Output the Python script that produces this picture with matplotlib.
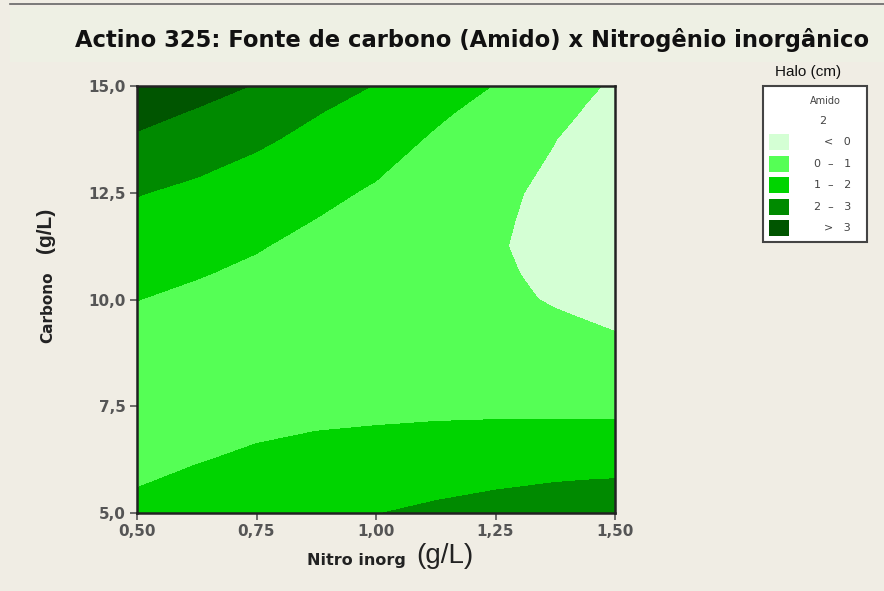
import matplotlib.pyplot as plt
import matplotlib.patches as patches
import numpy as np

# Grid
nitro = [0.50, 0.625, 0.75, 0.875, 1.00, 1.125, 1.25, 1.3125, 1.375, 1.4375, 1.50]
carbono = [5.0, 6.25, 7.5, 8.75, 10.0, 10.625, 11.25, 11.875, 12.5, 13.75, 14.375, 15.0]

# halo (cm), one row per carbono value, columns follow nitro
halo_c050 = [1.25, 1.50, 1.70, 1.90, 1.98, 2.15, 2.30, 2.35, 2.40, 2.43, 2.45]
halo_c062 = [0.72, 0.95, 1.15, 1.25, 1.35, 1.50, 1.60, 1.65, 1.70, 1.73, 1.75]
halo_c075 = [0.55, 0.60, 0.65, 0.78, 0.80, 0.80, 0.80, 0.79, 0.78, 0.77, 0.75]
halo_c088 = [0.70, 0.65, 0.60, 0.55, 0.50, 0.40, 0.35, 0.30, 0.25, 0.19, 0.12]
halo_c100 = [1.01, 0.85, 0.72, 0.55, 0.40, 0.25, 0.12, 0.04, -0.05, -0.12, -0.18]
halo_c106 = [1.21, 1.05, 0.87, 0.66, 0.46, 0.26, 0.08, -0.02, -0.13, -0.22, -0.30]
halo_c112 = [1.45, 1.30, 1.05, 0.80, 0.55, 0.30, 0.06, -0.08, -0.19, -0.30, -0.40]
halo_c119 = [1.73, 1.53, 1.26, 0.99, 0.71, 0.39, 0.12, -0.06, -0.18, -0.33, -0.44]
halo_c125 = [2.05, 1.78, 1.50, 1.20, 0.90, 0.50, 0.20, -0.01, -0.15, -0.30, -0.45]
halo_c138 = [2.88, 2.55, 2.15, 1.75, 1.35, 0.90, 0.50, 0.25, 0.01, -0.20, -0.35]
halo_c144 = [3.28, 2.92, 2.52, 2.04, 1.62, 1.13, 0.71, 0.46, 0.20, -0.05, -0.24]
halo_c150 = [3.75, 3.35, 2.95, 2.35, 1.97, 1.40, 0.97, 0.70, 0.42, 0.12, -0.10]

levels = [-10, 0, 1, 2, 3, 10]
level_labels = ["<   0", "0  \u2013   1", "1  \u2013   2", "2  \u2013   3", ">   3"]
level_colors = ["#D4FFD4", "#55FF55", "#00D400", "#008A00", "#005500"]

xticks = [0.50, 0.75, 1.00, 1.25, 1.50]
xtick_labels = ["0,50", "0,75", "1,00", "1,25", "1,50"]
yticks = [5.0, 7.5, 10.0, 12.5, 15.0]
ytick_labels = ["5,0", "7,5", "10,0", "12,5", "15,0"]

W, H = 884, 591
BG = "#F0EDE4"


def fx(x):
    return x / W


def fy(y):
    return 1 - y / H


fig = plt.figure(figsize=(W / 100, H / 100), dpi=100, facecolor=BG)

# light title band and thin frame line at the top
fig.patches.append(patches.Rectangle((fx(10), fy(62)), 1, fy(7) - fy(62),
                                     transform=fig.transFigure,
                                     facecolor="#EEF0E4", edgecolor="none"))
fig.add_artist(plt.Line2D([fx(10), 1], [fy(4), fy(4)], color="#666666",
                          lw=1.2, transform=fig.transFigure))

ax = fig.add_axes([fx(137), fy(513), fx(615) - fx(137), fy(86) - fy(513)])
Z = np.array([halo_c050, halo_c062, halo_c075, halo_c088, halo_c100, halo_c106,
              halo_c112, halo_c119, halo_c125, halo_c138, halo_c144, halo_c150])
ax.contourf(nitro, carbono, Z, levels=levels, colors=level_colors)
ax.set_xlim(0.5, 1.5)
ax.set_ylim(5, 15)

for s in ax.spines.values():
    s.set_linewidth(1.8)
    s.set_color("#222222")

tick_font = dict(family="DejaVu Sans", weight="bold", size=11, color="#555555")
ax.set_xticks(xticks)
ax.set_xticklabels(xtick_labels, **tick_font)
ax.set_yticks(yticks)
ax.set_yticklabels(ytick_labels, **tick_font)
ax.tick_params(direction="out", length=5, width=1.2, color="#555555", pad=3)

# title
fig.text(fx(75), fy(40), "Actino 325: Fonte de carbono (Amido) x Nitrog\u00eanio inorg\u00e2nico",
         family="DejaVu Sans", weight="bold", size=16.3, color="#111111",
         va="center", ha="left")

# axis labels (mixed sizes as in the original)
fig.text(fx(406), fy(561), "Nitro inorg", family="DejaVu Sans", weight="bold",
         size=11.5, color="#222222", ha="right", va="center")
fig.text(fx(416), fy(556), "(g/L)", family="Liberation Sans",
         size=20, color="#222222", ha="left", va="center")
fig.text(fx(48), fy(307), "Carbono", family="DejaVu Sans", weight="bold",
         size=11, color="#222222", ha="center", va="center", rotation=90)
fig.text(fx(46), fy(230), "(g/L)", family="Liberation Sans", weight="bold",
         size=15, color="#222222", ha="center", va="center", rotation=90)

# legend box
fig.text(fx(808), fy(72), "Halo (cm)", family="Liberation Sans", size=11,
         color="#111111", ha="center", va="center")
fig.patches.append(patches.Rectangle((fx(763), fy(242)), fx(867) - fx(763),
                                     fy(86) - fy(242), transform=fig.transFigure,
                                     facecolor="white", edgecolor="#444444", lw=1.5))
fig.text(fx(825), fy(101), "Amido", family="DejaVu Sans", size=7,
         color="#444444", ha="center", va="center")
fig.text(fx(823), fy(121), "2", family="DejaVu Sans", size=8,
         color="#444444", ha="center", va="center")
row_y = [142, 164, 185, 207, 228]
for yy, lab, col in zip(row_y, level_labels, level_colors):
    fig.patches.append(patches.Rectangle((fx(769), fy(yy + 8)), fx(20), 16 / H,
                                         transform=fig.transFigure,
                                         facecolor=col, edgecolor="none"))
    fig.text(fx(851), fy(yy), lab, family="DejaVu Sans", size=8,
             color="#444444", ha="right", va="center")

fig.savefig("out.png", dpi=100, facecolor=BG)
